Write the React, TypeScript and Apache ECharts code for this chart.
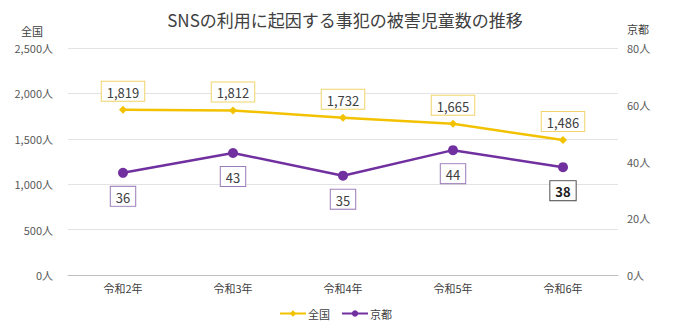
import React, { useEffect, useRef } from "react";
import * as echarts from "echarts";

const categories = ["令和2年", "令和3年", "令和4年", "令和5年", "令和6年"];
const zenkoku = [1819, 1812, 1732, 1665, 1486];
const kyoto = [36, 43, 35, 44, 38];
const leftTicks = [0, 500, 1000, 1500, 2000, 2500];
const rightTicks = [0, 20, 40, 60, 80];

const FONT = "'Noto Sans CJK JP', sans-serif";

export default function App() {
  const ref = useRef<HTMLDivElement>(null);
  useEffect(() => {
    const chart = echarts.init(ref.current!, null, { renderer: "svg" });
    const fmtNum = (v: number) => v.toLocaleString("en-US");
    chart.setOption({
      animation: false,
      backgroundColor: "#ffffff",
      textStyle: { fontFamily: FONT },
      title: {
        text: "SNSの利用に起因する事犯の被害児童数の推移",
        left: "center",
        top: 3,
        padding: 0,
        textStyle: { fontFamily: FONT, fontSize: 17, fontWeight: "normal", color: "#404040" },
      },
      legend: {
        bottom: 3,
        left: 266,
        itemWidth: 26,
        itemHeight: 8,
        itemGap: 11,
        textStyle: { fontFamily: FONT, fontSize: 11, color: "#404040", padding: [0, 0, 0, -3] },
        data: ["全国", "京都"],
      },
      grid: { left: 60, right: 64, top: 40, bottom: 52 },
      xAxis: {
        type: "category",
        data: categories,
        boundaryGap: true,
        axisLine: { lineStyle: { color: "#bfbfbf" } },
        axisTick: { show: false },
        axisLabel: { fontFamily: FONT, fontSize: 11, color: "#404040", margin: 7 },
      },
      yAxis: [
        {
          type: "value",
          name: "全国",
          nameLocation: "end",
          nameGap: 12,
          nameTextStyle: { fontFamily: FONT, fontSize: 11, color: "#404040", align: "right", padding: [0, 25, 0, 0] },
          min: leftTicks[0],
          max: leftTicks[leftTicks.length - 1],
          interval: 500,
          axisLine: { show: false },
          axisTick: { show: false },
          splitLine: { lineStyle: { color: "#e3e3e3" } },
          axisLabel: {
            fontFamily: FONT,
            fontSize: 11,
            color: "#595959",
            margin: 15,
            formatter: (v: number) => fmtNum(v) + "人",
          },
        },
        {
          type: "value",
          name: "京都",
          nameLocation: "end",
          nameGap: 14,
          nameTextStyle: { fontFamily: FONT, fontSize: 11, color: "#404040", align: "left", padding: [0, 0, 0, 9] },
          min: rightTicks[0],
          max: rightTicks[rightTicks.length - 1],
          interval: 20,
          axisLine: { show: false },
          axisTick: { show: false },
          splitLine: { show: false },
          axisLabel: {
            fontFamily: FONT,
            fontSize: 11,
            color: "#595959",
            margin: 9,
            formatter: (v: number) => v + "人",
          },
        },
      ],
      series: [
        {
          name: "全国",
          type: "line",
          yAxisIndex: 0,
          data: zenkoku,
          symbol: "diamond",
          symbolSize: 8,
          itemStyle: { color: "#f2c200" },
          lineStyle: { color: "#f2c200", width: 2.5 },
          label: {
            show: true,
            position: "top",
            distance: 5,
            formatter: (p: any) => fmtNum(p.value),
            fontFamily: FONT,
            fontSize: 13,
            color: "#404040",
            backgroundColor: "#fff",
            borderColor: "#f0d46a",
            borderWidth: 1,
            padding: [4, 5, 2, 5],
          },
        },
        {
          name: "京都",
          type: "line",
          yAxisIndex: 1,
          data: kyoto.map((v, i) =>
            i === kyoto.length - 1
              ? {
                  value: v,
                  label: { fontWeight: "bold", borderColor: "#505050", color: "#202020" },
                }
              : v
          ),
          symbol: "circle",
          symbolSize: 10,
          itemStyle: { color: "#7030a0" },
          lineStyle: { color: "#7030a0", width: 2.5 },
          label: {
            show: true,
            position: "bottom",
            distance: 9,
            fontFamily: FONT,
            fontSize: 13,
            color: "#404040",
            backgroundColor: "#fff",
            borderColor: "#9b7bb8",
            borderWidth: 1,
            padding: [4, 5, 2, 5],
          },
        },
      ],
    });
    return () => chart.dispose();
  }, []);
  return <div ref={ref} style={{ width: 674, height: 319 }} />;
}
